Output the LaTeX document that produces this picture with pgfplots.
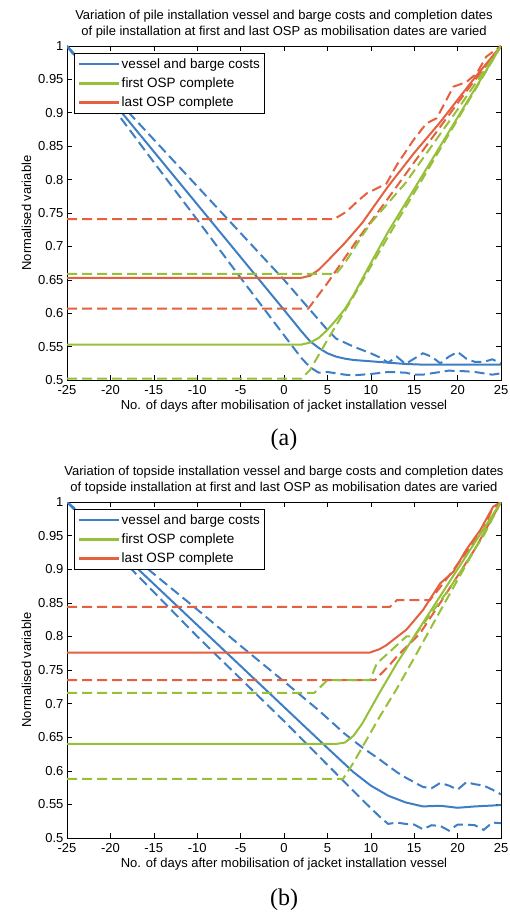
\documentclass[border=0pt]{standalone}
\usepackage{pgfplots}
\pgfplotsset{compat=1.18}
\usepackage{fontspec}
\setmainfont{Liberation Sans}
\newfontfamily\capfont{Liberation Serif}
\definecolor{mblue}{RGB}{61,126,196}
\definecolor{mgreen}{RGB}{150,192,56}
\definecolor{mred}{RGB}{228,96,62}

\pgfplotsset{
  osp/.style={
    scale only axis, width=434pt,
    xmin=-25, xmax=25, ymin=0.5, ymax=1,
    xtick={-25,-20,...,25},
    ytick={0.5,0.55,0.6,0.65,0.7,0.75,0.8,0.85,0.9,0.95,1},
    tick align=inside, tick pos=both, major tick length=5pt,
    axis line style={line width=0.8pt},
    tick style={black, line width=0.6pt},
    /pgf/number format/assume math mode=true,
    ticklabel style={font=\fontsize{13}{15}\selectfont},
    xticklabel style={yshift=-2pt},
    yticklabel style={/pgf/number format/fixed, /pgf/number format/precision=2},
    xlabel={No. of days after mobilisation of jacket installation vessel},
    ylabel={Normalised variable},
    label style={font=\fontsize{13}{15}\selectfont},
    xlabel style={yshift=2pt},
    title style={align=center, font=\fontsize{13}{16}\selectfont, yshift=-2pt},
    legend style={at={(0.016,0.979)}, anchor=north west,
      font=\fontsize{13.5}{15}\selectfont, draw=black, line width=0.8pt,
      cells={anchor=west}, row sep=4pt, inner ysep=3pt},
    legend image code/.code={\draw[#1, line width=2.4pt] (0pt,0pt) -- (40pt,0pt);},
    every axis plot/.append style={line width=2pt, forget plot},
  },
  dsh/.style={dash pattern=on 10pt off 5pt},
}

\begin{document}
\begin{tikzpicture}
\useasboundingbox (0,0) rectangle (510pt,-915pt);

% (a) pile installation
\begin{axis}[osp, height=334pt, at={(67pt,-380pt)}, anchor=south west,
  title={Variation of pile installation vessel and barge costs and completion dates\\of pile installation at first and last OSP as mobilisation dates are varied}]
\addlegendimage{mblue}
\addlegendentry{vessel and barge costs}
\addlegendimage{mgreen}
\addlegendentry{first OSP complete}
\addlegendimage{mred}
\addlegendentry{last OSP complete}
% vessel and barge costs
\addplot[mblue, dsh] coordinates {(-25,1) (-20,0.93) (-15,0.86) (-10,0.79) (-5,0.72) (0,0.65) (2,0.62) (4,0.59) (5,0.575) (6,0.562) (8,0.55) (10,0.54) (11,0.534) (12,0.526) (13,0.535) (14,0.524) (15,0.532) (16,0.54) (17,0.535) (18,0.525) (19,0.535) (20,0.542) (21,0.532) (22,0.527) (23,0.527) (24,0.531) (25,0.525)};
\addplot[mblue, dsh] coordinates {(-25,1) (-20,0.913) (-15,0.826) (-10,0.74) (-5,0.653) (0,0.567) (1,0.55) (2,0.533) (3,0.519) (4,0.511) (5,0.512) (6,0.51) (7,0.508) (8,0.507) (10,0.509) (12,0.512) (14,0.511) (15,0.508) (16,0.508) (17,0.51) (19,0.514) (21,0.513) (22,0.512) (24,0.508) (25,0.51)};
\addplot[mblue] coordinates {(-25,1) (-20,0.921) (-15,0.842) (-10,0.763) (-5,0.684) (0,0.605) (2,0.573) (3,0.558) (4,0.548) (5,0.54) (6,0.535) (7,0.532) (8,0.53) (10,0.528) (12,0.526) (14,0.524) (16,0.523) (20,0.523) (25,0.523)};
% last OSP
\addplot[mred, dsh] coordinates {(-25,0.741) (5.8,0.741) (7.2,0.752) (8.5,0.768) (9.5,0.779) (11.8,0.794) (13,0.822) (14.9,0.859) (16.4,0.884) (17.6,0.892) (18.7,0.919) (19.5,0.939) (21,0.946) (22.2,0.959) (23.3,0.984) (25,1)};
\addplot[mred, dsh] coordinates {(-25,0.607) (2.8,0.607) (5,0.645) (8.4,0.709) (10,0.737) (12,0.772) (15,0.826) (18,0.879) (21,0.932) (25,1)};
\addplot[mred] coordinates {(-25,0.653) (2,0.653) (3,0.656) (4,0.665) (5,0.678) (7,0.705) (9,0.735) (12,0.79) (15,0.84) (18,0.886) (22,0.953) (25,1)};
% first OSP
\addplot[mgreen, dsh] coordinates {(-25,0.659) (6,0.659) (7,0.675) (8,0.695) (9,0.716) (10,0.735) (12,0.765) (14,0.795) (17,0.85) (20,0.905) (25,1)};
\addplot[mgreen, dsh] coordinates {(-25,0.502) (2,0.502) (3,0.515) (5,0.56) (8,0.625) (10,0.67) (13,0.737) (16,0.802) (20,0.89) (25,1)};
\addplot[mgreen] coordinates {(-25,0.553) (2,0.553) (3,0.556) (4,0.563) (5,0.575) (6,0.59) (7,0.606) (8,0.627) (10,0.675) (12,0.722) (15,0.786) (20,0.893) (25,1)};
\end{axis}
\node[font=\capfont\fontsize{24}{27}\selectfont] at (284pt,-440pt) {(a)};

% (b) topside installation
\begin{axis}[osp, height=336pt, at={(67pt,-838pt)}, anchor=south west,
  title={Variation of topside installation vessel and barge costs and completion dates\\of topside installation at first and last OSP as mobilisation dates are varied}]
\addlegendimage{mblue}
\addlegendentry{vessel and barge costs}
\addlegendimage{mgreen}
\addlegendentry{first OSP complete}
\addlegendimage{mred}
\addlegendentry{last OSP complete}
% vessel and barge costs
\addplot[mblue, dsh] coordinates {(-25,1) (-20,0.946) (-15,0.893) (-10,0.84) (-5,0.786) (0,0.733) (4,0.69) (7,0.655) (9,0.635) (11,0.617) (13,0.598) (14,0.59) (16,0.576) (17,0.574) (18,0.582) (19,0.578) (20,0.572) (21,0.583) (22,0.58) (23,0.578) (24,0.572) (25,0.565)};
\addplot[mblue, dsh] coordinates {(-25,1) (-20,0.932) (-15,0.866) (-10,0.8) (-5,0.737) (0,0.674) (2,0.648) (5,0.609) (7,0.583) (9,0.557) (11,0.532) (12,0.521) (13,0.523) (14,0.521) (15,0.52) (16,0.513) (17,0.519) (18,0.518) (19,0.511) (20,0.52) (21,0.52) (22,0.519) (23,0.512) (24,0.523) (25,0.522)};
\addplot[mblue] coordinates {(-25,1) (-20,0.939) (-15,0.878) (-10,0.817) (-5,0.756) (0,0.695) (5,0.634) (8,0.598) (10,0.578) (12,0.563) (14,0.553) (16,0.547) (18,0.548) (20,0.545) (22,0.547) (25,0.549)};
% last OSP
\addplot[mred, dsh] coordinates {(-25,0.844) (12.2,0.844) (13,0.854) (16.8,0.854) (17.5,0.865) (19,0.89) (21,0.925) (23,0.96) (24,0.99) (25,1)};
\addplot[mred, dsh] coordinates {(-25,0.735) (10.5,0.735) (11,0.742) (12,0.755) (13,0.77) (15.7,0.805) (18,0.85) (20,0.89) (22,0.93) (25,1)};
\addplot[mred] coordinates {(-25,0.776) (9.9,0.776) (11,0.781) (11.8,0.787) (14.1,0.81) (16,0.839) (18,0.879) (19.5,0.896) (21,0.929) (22.6,0.958) (24.1,0.993) (25,1)};
% first OSP
\addplot[mgreen, dsh] coordinates {(-25,0.716) (3.5,0.716) (5,0.735) (9.9,0.735) (10.7,0.76) (12,0.775) (14.1,0.8) (15,0.8) (17,0.835) (19,0.87) (21,0.91) (23,0.95) (25,1)};
\addplot[mgreen, dsh] coordinates {(-25,0.588) (6.8,0.588) (8,0.612) (9.5,0.646) (11,0.68) (12.9,0.72) (15,0.768) (18,0.838) (21,0.907) (25,1)};
\addplot[mgreen] coordinates {(-25,0.64) (6,0.64) (7,0.642) (8,0.652) (9,0.67) (10,0.693) (11,0.716) (13,0.76) (15,0.8) (17,0.84) (19,0.88) (21,0.92) (23,0.96) (25,1)};
\end{axis}
\node[font=\capfont\fontsize{24}{27}\selectfont] at (284pt,-900pt) {(b)};
\end{tikzpicture}
\end{document}
